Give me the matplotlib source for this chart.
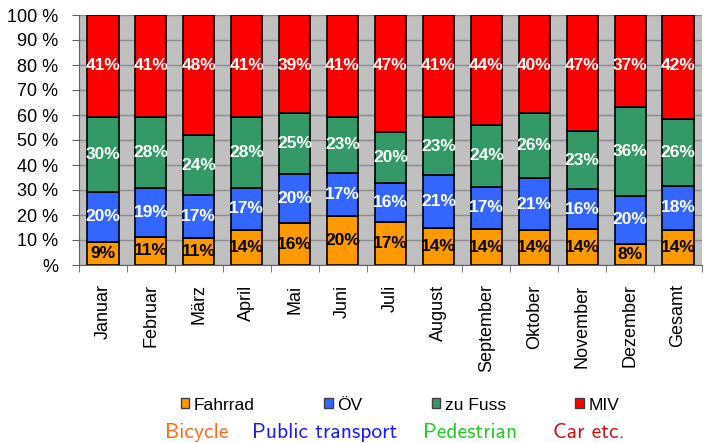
import numpy as np
import matplotlib
matplotlib.use("Agg")
import matplotlib.pyplot as plt
from matplotlib.patches import Patch

# Daten (Anteile je Monat) und gedruckte Beschriftungen
monate = ['Januar', 'Februar', 'März', 'April', 'Mai', 'Juni', 'Juli', 'August',
          'September', 'Oktober', 'November', 'Dezember', 'Gesamt']
fahrrad = [9.3, 11.3, 10.9, 14.0, 16.7, 19.7, 17.1, 14.7, 14.4, 14.0, 14.4, 8.3, 14.0]
oev = [20.0, 19.6, 17.1, 16.9, 19.6, 17.2, 15.8, 21.3, 16.9, 20.7, 15.9, 19.4, 17.7]
zu_fuss = [29.8, 28.2, 24.0, 28.2, 24.4, 22.4, 20.2, 23.1, 24.7, 26.0, 23.3, 35.6, 26.6]
miv = [40.9, 40.9, 48.0, 40.9, 39.3, 40.7, 46.9, 40.9, 44.0, 39.3, 46.4, 36.7, 41.7]

lbl_fahrrad = [9, 11, 11, 14, 16, 20, 17, 14, 14, 14, 14, 8, 14]
lbl_oev = [20, 19, 17, 17, 20, 17, 16, 21, 17, 21, 16, 20, 18]
lbl_fuss = [30, 28, 24, 28, 25, 23, 20, 23, 24, 26, 23, 36, 26]
lbl_miv = [41, 41, 48, 41, 39, 41, 47, 41, 44, 40, 47, 37, 42]

y_ticklabels = ['%', '10 %', '20 %', '30 %', '40 %', '50 %', '60 %', '70 %', '80 %', '90 %', '100 %']

serien = [
    ('Fahrrad', fahrrad, lbl_fahrrad, '#FF9900', 'black'),
    ('ÖV', oev, lbl_oev, '#3366FF', 'white'),
    ('zu Fuss', zu_fuss, lbl_fuss, '#339966', 'white'),
    ('MIV', miv, lbl_miv, '#FF0000', 'white'),
]
englisch = [('Bicycle', '#FF6A1A', 165), ('Public transport', '#1A1AFF', 252),
            ('Pedestrian', '#22CC22', 423), ('Car etc.', '#CC1111', 553)]

plt.rcParams['font.family'] = ['Liberation Sans', 'DejaVu Sans']

fig = plt.figure(figsize=(7.05, 4.43), dpi=100)
ax = fig.add_axes([79 / 705, 1 - 265 / 443, 623 / 705, 250 / 443])
ax.set_facecolor('#C0C0C0')

x = np.arange(len(monate))
unten = np.zeros(len(monate))
for name, werte, lbls, farbe, tfarbe in serien:
    werte = np.array(werte)
    ax.bar(x, werte, width=0.65, bottom=unten, color=farbe, edgecolor='black',
           linewidth=1.2, zorder=3, label=name)
    for xi, b, h, l in zip(x, unten, werte, lbls):
        # MIV-Beschriftungen sitzen im Original etwa bei 80 %
        ym = 80 if name == 'MIV' else b + h / 2
        ax.text(xi, ym, f'{l}%', ha='center', va='center', color=tfarbe,
                fontsize=12.5, fontweight='bold', zorder=4)
    unten += werte

ax.set_xlim(-0.5, len(monate) - 0.5)
ax.set_ylim(0, 100)
ax.set_yticks(np.arange(0, 101, 10))
ax.set_yticklabels(y_ticklabels, fontsize=13)
ax.yaxis.grid(True, color='#8C8C8C', linewidth=1, zorder=1)
ax.set_axisbelow(True)

ax.set_xticks(x)
ax.set_xticklabels(monate, rotation=90, fontsize=13, va='top')
ax.set_xticks(np.arange(-0.5, len(monate), 1), minor=True)
ax.tick_params(axis='x', which='major', length=0, pad=14)
ax.tick_params(axis='x', which='minor', length=5, color='#606060')
ax.tick_params(axis='y', length=5, color='#606060', pad=10)

for s in ['top', 'right']:
    ax.spines[s].set_visible(False)
ax.spines['left'].set_color('#606060')
ax.spines['bottom'].set_color('#606060')

handles = [Patch(facecolor=f, edgecolor='#404040', linewidth=1) for _, _, _, f, _ in serien]
fig.legend(handles, [s[0] for s in serien], loc='center', bbox_to_anchor=(400 / 705, 1 - 405 / 443),
           ncol=4, frameon=False, fontsize=12.5, handlelength=0.5, handleheight=0.5,
           handletextpad=0.25, columnspacing=4.0)

for txt, farbe, xpos in englisch:
    fig.text(xpos / 705, 1 - 432 / 443, txt, color=farbe, fontsize=15.5,
             family='cmss10', ha='left', va='center')

plt.savefig('out.png', dpi=100)
